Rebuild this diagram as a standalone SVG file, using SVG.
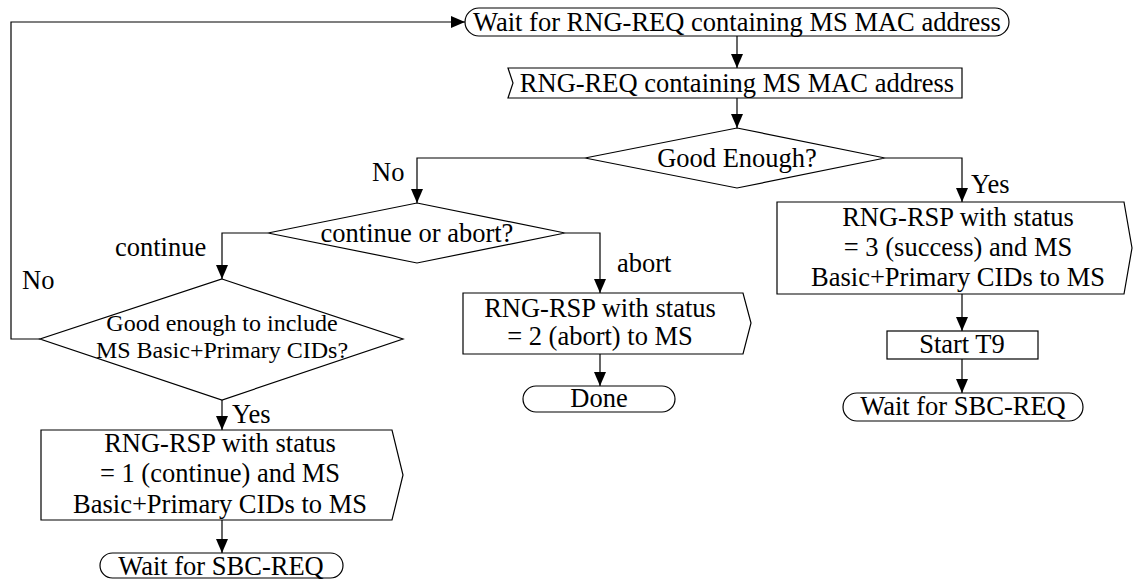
<svg xmlns="http://www.w3.org/2000/svg" width="1135" height="579" viewBox="0 0 1135 579">
<style>
.s{fill:#fff;stroke:#000;stroke-width:1.2}
.c{fill:none;stroke:#000;stroke-width:1.2;marker-end:url(#ah)}
text{font-family:"Liberation Serif","Times New Roman",serif;font-size:26.5px;fill:#000}
.m{text-anchor:middle}
.sm{font-size:24px}
</style>
<defs>
<marker id="ah" markerUnits="userSpaceOnUse" markerWidth="14" markerHeight="12" viewBox="0 0 14 12" refX="14" refY="6" orient="auto">
<path d="M0,0 L14,6 L0,12 Z" fill="#000"/>
</marker>
</defs>
<rect width="1135" height="579" fill="#fff"/>
<g id="connectors">
<polyline class="c" points="40,339 11,339 11,22 465,22"/>
<line class="c" x1="737" y1="36" x2="737" y2="68"/>
<line class="c" x1="737" y1="98" x2="737" y2="128"/>
<polyline class="c" points="585,158 417,158 417,203"/>
<polyline class="c" points="885,158 962,158 962,202"/>
<polyline class="c" points="268,233 222,233 222,279"/>
<polyline class="c" points="565,233 600,233 600,293"/>
<line class="c" x1="600" y1="354" x2="600" y2="386"/>
<line class="c" x1="222" y1="400" x2="222" y2="430"/>
<line class="c" x1="222" y1="520" x2="222" y2="553"/>
<line class="c" x1="962" y1="294" x2="962" y2="331"/>
<line class="c" x1="962" y1="359" x2="962" y2="393"/>
<text x="372" y="181">No</text>
<text x="971" y="193">Yes</text>
<text x="115" y="256">continue</text>
<text x="617" y="272">abort</text>
<text x="22" y="289">No</text>
<text x="232" y="423">Yes</text>
</g>
<g id="wait-rng-req">
<rect class="s" x="465" y="8" width="544" height="28" rx="14"/>
<text class="m" x="737" y="31">Wait for RNG-REQ containing MS MAC address</text>
</g>
<g id="rng-req">
<path class="s" d="M508,68 L962,68 L962,98 L508,98 L513,83 Z"/>
<text class="m" x="737" y="92">RNG-REQ containing MS MAC address</text>
</g>
<g id="good-enough">
<path class="s" d="M737,128 L885,158 L737,188 L585,158 Z"/>
<text class="m" x="737" y="167">Good Enough?</text>
</g>
<g id="continue-or-abort">
<path class="s" d="M417,203 L565,233 L417,263 L268,233 Z"/>
<text class="m" x="417" y="242">continue or abort?</text>
</g>
<g id="good-enough-cids">
<path class="s" d="M222,279 L403,339 L222,400 L40,339 Z"/>
<text class="m sm" x="222" y="331">Good enough to include</text>
<text class="m sm" x="222" y="358">MS Basic+Primary CIDs?</text>
</g>
<g id="rsp-continue">
<path class="s" d="M41,430 L392,430 L403,475 L392,520 L41,520 Z"/>
<text class="m" x="220" y="452">RNG-RSP with status</text>
<text class="m" x="220" y="482">= 1 (continue) and MS</text>
<text class="m" x="220" y="513">Basic+Primary CIDs to MS</text>
</g>
<g id="wait-sbc-left">
<rect class="s" x="100" y="553" width="243" height="25" rx="12.5"/>
<text class="m" x="221" y="575">Wait for SBC-REQ</text>
</g>
<g id="rsp-abort">
<path class="s" d="M463,293 L743,293 L751,323 L743,354 L463,354 Z"/>
<text class="m" x="600" y="317">RNG-RSP with status</text>
<text class="m" x="600" y="345">= 2 (abort) to MS</text>
</g>
<g id="done">
<rect class="s" x="523" y="386" width="152" height="26" rx="13"/>
<text class="m" x="599" y="407">Done</text>
</g>
<g id="rsp-success">
<path class="s" d="M777,202 L1124,202 L1132,248 L1124,294 L777,294 Z"/>
<text class="m" x="958" y="226">RNG-RSP with status</text>
<text class="m" x="958" y="256">= 3 (success) and MS</text>
<text class="m" x="958" y="286">Basic+Primary CIDs to MS</text>
</g>
<g id="start-t9">
<rect class="s" x="887" y="331" width="151" height="28"/>
<text class="m" x="962" y="353">Start T9</text>
</g>
<g id="wait-sbc-right">
<rect class="s" x="843" y="393" width="240" height="28" rx="14"/>
<text class="m" x="963" y="415">Wait for SBC-REQ</text>
</g>
</svg>
